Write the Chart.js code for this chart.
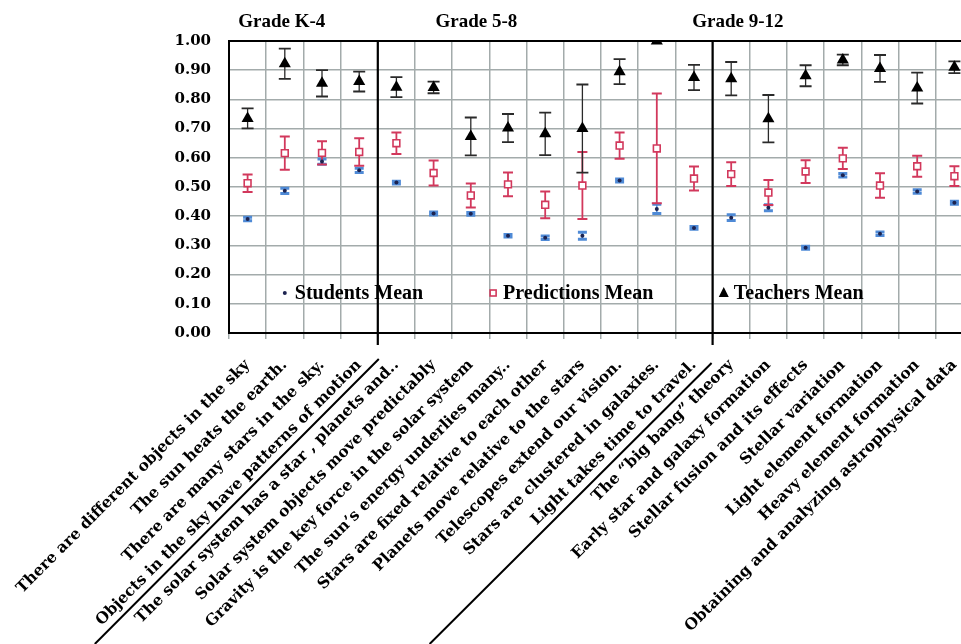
<!DOCTYPE html>
<html lang="en">
<head>
  <meta charset="UTF-8">
  <title>Students, Predictions and Teachers Means</title>
  <script src="https://cdn.jsdelivr.net/npm/chart.js"></script>
  <style>
    html, body { margin: 0; padding: 0; background: #fff; overflow: hidden; }
    #wrap { position: absolute; left: 0; top: 0; width: 990px; height: 644px; }
  </style>
</head>
<body>
  <div id="wrap">
    <canvas id="myChart" width="990" height="644"></canvas>
  </div>

  <script>
    // categories (x axis)
    const categories = [
      'There are different objects in the sky',
      'The sun heats the earth.',
      'There are many stars in the sky.',
      'Objects in the sky have patterns of motion',
      'The solar system has a star , planets and..',
      'Solar system objects move predictably',
      'Gravity is the key force in the solar system',
      'The sun\u2019s energy underlies many..',
      'Stars are fixed relative to each other',
      'Planets move relative to the stars',
      'Telescopes extend our vision.',
      'Stars are clustered in galaxies.',
      'Light takes time to travel.',
      'The \u201cbig bang\u201d theory',
      'Early star and galaxy formation',
      'Stellar fusion and its effects',
      'Stellar variation',
      'Light element formation',
      'Heavy element formation',
      'Obtaining and analyzing astrophysical data'
    ];

    // series values
    const studentsMean = [0.39, 0.487, 0.587, 0.557, 0.515, 0.409, 0.408, 0.333, 0.326, 0.333,
                          0.522, 0.425, 0.36, 0.395, 0.429, 0.292, 0.54, 0.34, 0.485, 0.446];
    const studentsErr  = [0.006, 0.009, 0.009, 0.007, 0.005, 0.005, 0.005, 0.004, 0.006, 0.012,
                          0.005, 0.016, 0.005, 0.01, 0.01, 0.005, 0.006, 0.006, 0.006, 0.005];

    const predictionsMean = [0.513, 0.616, 0.617, 0.62, 0.65, 0.548, 0.471, 0.509, 0.439, 0.505,
                             0.642, 0.632, 0.529, 0.544, 0.481, 0.553, 0.598, 0.505, 0.571, 0.537];
    const predictionsErr  = [0.03, 0.057, 0.04, 0.047, 0.037, 0.043, 0.041, 0.041, 0.046, 0.115,
                             0.045, 0.188, 0.041, 0.041, 0.043, 0.039, 0.036, 0.042, 0.036, 0.034];

    const teachersMean = [0.735, 0.922, 0.855, 0.861, 0.842, 0.841, 0.673, 0.702, 0.682, 0.70,
                          0.895, 1.0, 0.875, 0.871, 0.734, 0.881, 0.935, 0.906, 0.839, 0.91];
    const teachersErr  = [0.034, 0.052, 0.045, 0.034, 0.034, 0.02, 0.065, 0.048, 0.073, 0.151,
                          0.043, 0.0, 0.043, 0.057, 0.081, 0.036, 0.018, 0.046, 0.053, 0.02];

    // group headings and where they stand (category index units)
    const gradeLabels = ['Grade K-4', 'Grade 5-8', 'Grade 9-12'];
    const gradePos = [0.92, 6.15, 13.18];
    // group boundaries: separator drawn after these category indexes
    const groupBreaks = [3, 12];

    const yTicks = [0, 0.1, 0.2, 0.3, 0.4, 0.5, 0.6, 0.7, 0.8, 0.9, 1.0];

    const GRID = '#a3abab';
    const RED = '#d2385c';
    const BLUE = '#4f8ad6';

    // error bars drawn with the chart's scales
    const errorBars = {
      id: 'errorBars',
      beforeDatasetsDraw(chart) {
        const ctx = chart.ctx;
        const yScale = chart.scales.y;
        chart.data.datasets.forEach((ds, di) => {
          const meta = chart.getDatasetMeta(di);
          ctx.save();
          ctx.strokeStyle = ds.errColor;
          meta.data.forEach((pt, i) => {
            const e = ds.errors[i];
            if (!e) return;
            const v = ds.data[i];
            const x = pt.x;
            const yTop = yScale.getPixelForValue(v + e);
            const yBot = yScale.getPixelForValue(v - e);
            ctx.lineWidth = ds.errWidth;
            ctx.beginPath();
            ctx.moveTo(x, yTop);
            ctx.lineTo(x, yBot);
            ctx.stroke();
            ctx.lineWidth = ds.capWidth;
            ctx.beginPath();
            ctx.moveTo(x - ds.capHalf, yTop);
            ctx.lineTo(x + ds.capHalf, yTop);
            ctx.moveTo(x - ds.capHalf, yBot);
            ctx.lineTo(x + ds.capHalf, yBot);
            ctx.stroke();
          });
          ctx.restore();
        });
      }
    };

    // group separators, headings and in-plot legend
    const decorations = {
      id: 'decorations',
      afterDraw(chart) {
        const ctx = chart.ctx;
        const xs = chart.scales.x;
        const area = chart.chartArea;
        ctx.save();

        // top border
        ctx.strokeStyle = '#000';
        ctx.lineWidth = 2;
        ctx.beginPath();
        ctx.moveTo(area.left, area.top);
        ctx.lineTo(area.right, area.top);
        ctx.stroke();

        // separators
        const seps = groupBreaks.map(b => (xs.getPixelForValue(b) + xs.getPixelForValue(b + 1)) / 2);
        ctx.lineWidth = 2.2;
        seps.forEach(sx => {
          ctx.beginPath();
          ctx.moveTo(sx, area.top);
          ctx.lineTo(sx, area.bottom + 12);
          ctx.stroke();
        });
        // diagonal lines between the label groups
        ctx.lineWidth = 2;
        ctx.beginPath();
        ctx.moveTo(seps[0] + 1, area.bottom + 26);
        ctx.lineTo(seps[0] - 283, area.bottom + 311);
        ctx.moveTo(seps[1] - 1, area.bottom + 30);
        ctx.lineTo(seps[1] - 283, area.bottom + 311);
        ctx.stroke();

        // headings
        ctx.fillStyle = '#000';
        ctx.font = 'bold 19px "Liberation Serif"';
        ctx.textAlign = 'center';
        ctx.textBaseline = 'alphabetic';
        gradeLabels.forEach((t, i) => {
          ctx.fillText(t, xs.getPixelForValue(gradePos[i]), 27);
        });

        // legend inside the plot
        const ly = chart.scales.y.getPixelForValue(0.137);
        ctx.font = 'bold 20px "Liberation Serif"';
        ctx.textAlign = 'left';
        ctx.textBaseline = 'middle';
        chart.data.datasets.forEach((ds, i) => {
          const mx = xs.getPixelForValue(ds.legendPos);
          ctx.save();
          if (ds.pointStyle === 'triangle') {
            ctx.fillStyle = '#000';
            ctx.beginPath();
            ctx.moveTo(mx, ly - 6);
            ctx.lineTo(mx + 5, ly + 4);
            ctx.lineTo(mx - 5, ly + 4);
            ctx.closePath();
            ctx.fill();
          } else if (ds.pointStyle === 'rect') {
            ctx.fillStyle = '#fff';
            ctx.strokeStyle = RED;
            ctx.lineWidth = 1.6;
            ctx.fillRect(mx - 3, ly - 3, 6, 6);
            ctx.strokeRect(mx - 3, ly - 3, 6, 6);
          } else {
            ctx.fillStyle = '#1c2350';
            ctx.beginPath();
            ctx.arc(mx, ly, 2, 0, Math.PI * 2);
            ctx.fill();
          }
          ctx.restore();
          ctx.fillText(ds.label, mx + 10, ly + 1);
        });
        ctx.restore();
      }
    };

    const ctx = document.getElementById('myChart').getContext('2d');
    const myChart = new Chart(ctx, {
      type: 'line',
      data: {
        labels: categories,
        datasets: [
          {
            label: 'Students Mean',
            data: studentsMean,
            errors: studentsErr,
            errColor: BLUE, errWidth: 1.5, capWidth: 3, capHalf: 4.5,
            legendPos: 1.0,
            showLine: false,
            pointStyle: 'circle',
            pointRadius: 2,
            pointBackgroundColor: '#1c2350',
            pointBorderColor: '#1c2350',
            pointBorderWidth: 0
          },
          {
            label: 'Predictions Mean',
            data: predictionsMean,
            errors: predictionsErr,
            errColor: RED, errWidth: 1.8, capWidth: 2, capHalf: 5,
            legendPos: 6.6,
            showLine: false,
            pointStyle: 'rect',
            pointRadius: 4.8,
            pointBackgroundColor: '#fff',
            pointBorderColor: RED,
            pointBorderWidth: 1.6
          },
          {
            label: 'Teachers Mean',
            data: teachersMean,
            errors: teachersErr,
            errColor: '#2a2a2a', errWidth: 1.3, capWidth: 1.8, capHalf: 6,
            legendPos: 12.8,
            showLine: false,
            pointStyle: 'triangle',
            pointRadius: 7,
            pointBackgroundColor: '#000',
            pointBorderColor: '#000',
            pointBorderWidth: 0
          }
        ]
      },
      options: {
        responsive: false,
        animation: false,
        layout: { padding: { top: 41, right: 17, left: 0, bottom: 0 } },
        plugins: {
          legend: { display: false },
          tooltip: { enabled: false }
        },
        scales: {
          x: {
            type: 'category',
            offset: true,
            grid: { offset: true, color: GRID, lineWidth: 1.5, tickLength: 6 },
            border: { color: '#000', width: 2 },
            ticks: {
              autoSkip: false,
              minRotation: 45,
              maxRotation: 45,
              padding: 17,
              color: '#000',
              font: { family: '"DejaVu Serif"', size: 15.5, weight: 'bold' }
            },
            afterFit(scale) {
              scale.height = 311;
              scale.paddingLeft = 0;
              scale.paddingRight = 0;
            }
          },
          y: {
            min: 0,
            max: 1,
            afterBuildTicks(scale) {
              scale.ticks = yTicks.map(v => ({ value: v }));
            },
            grid: {
              color: c => (c.tick && c.tick.value === 1 ? '#000' : GRID),
              lineWidth: 1.5,
              drawTicks: false
            },
            border: { color: '#000', width: 2 },
            ticks: {
              padding: 18,
              color: '#000',
              font: { family: '"DejaVu Serif"', size: 15, weight: 'bold' },
              callback: v => Number(v).toFixed(2)
            },
            afterFit(scale) {
              scale.width = 229;
            }
          }
        }
      },
      plugins: [errorBars, decorations]
    });
  </script>
</body>
</html>
